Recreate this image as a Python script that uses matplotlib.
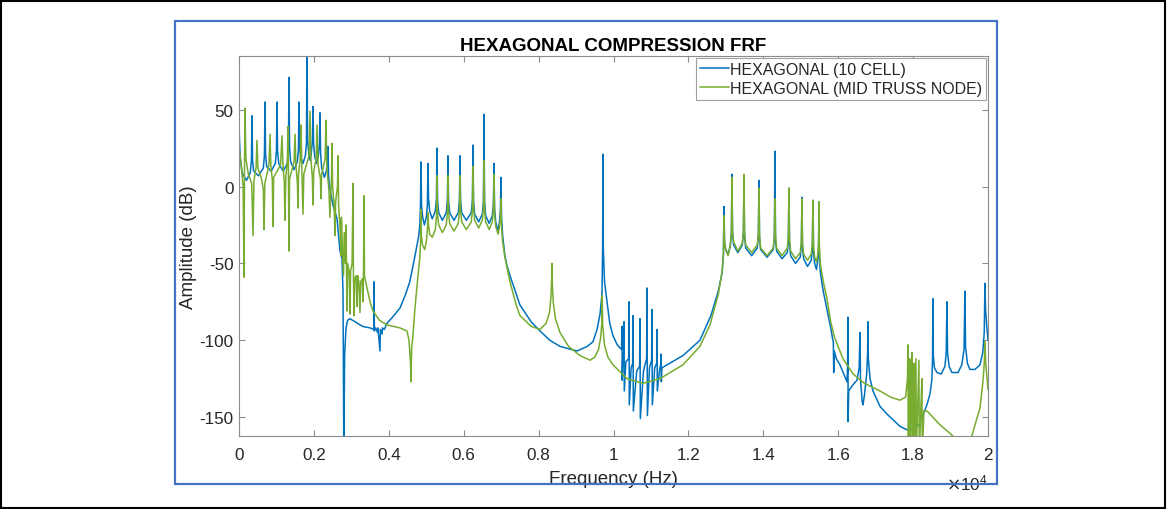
import matplotlib.pyplot as plt
from matplotlib.patches import Rectangle
from matplotlib.ticker import FuncFormatter

plt.rcParams['font.family'] = ['Liberation Sans', 'DejaVu Sans']
plt.rcParams['axes.unicode_minus'] = False

# (frequency Hz, amplitude dB), one list per stretch of curve

# HEXAGONAL (10 CELL)
blue_band1 = [(0, 39), (30, 20), (80, 9), (200, 4), (302, 9), (332, 17), (347, 46), (362, 17),
              (392, 10), (520, 7), (649, 12), (679, 20), (694, 55), (709, 21), (739, 13), (860, 10),
              (970, 15), (1000, 23), (1015, 55), (1030, 23), (1060, 15), (1180, 10), (1290, 15),
              (1320, 24), (1335, 71), (1350, 25), (1380, 16), (1470, 11), (1557, 16), (1587, 24),
              (1602, 55), (1617, 26), (1647, 19), (1710, 15), (1771, 20), (1801, 28), (1816, 95),
              (1831, 30), (1861, 22), (1900, 17), (1931, 22), (1961, 30), (1976, 52), (1991, 28),
              (2021, 20), (2070, 15), (2118, 20), (2148, 28), (2163, 48), (2178, 22), (2208, 12),
              (2280, 6), (2331, 10), (2361, 16), (2376, 26), (2391, 8), (2410, 1), (2510, -12),
              (2617, -21), (2697, -42), (2750, -47), (2777, -68), (2800, -175)]
blue_gap1 = [(2820, -110), (2857, -92), (2900, -87), (2964, -86), (3100, -88), (3300, -91),
             (3500, -92), (3600, -93), (3605, -62), (3615, -94), (3650, -92), (3700, -95),
             (3710, -92), (3765, -107), (3775, -93), (3820, -96), (3830, -92), (3880, -93),
             (3950, -89), (4100, -85), (4300, -79), (4450, -70), (4560, -62), (4700, -45),
             (4800, -32), (4830, -24), (4845, -14)]
blue_band2 = [(4859, 16), (4874, -12), (4904, -20), (4950, -25), (5001, -20), (5031, -12), (5046, 15),
              (5061, -8), (5091, -16), (5160, -21), (5242, -16), (5272, -8), (5287, 25), (5302, -9),
              (5332, -17), (5430, -22), (5535, -17), (5565, -9), (5580, 20), (5595, -9), (5625, -17),
              (5740, -22), (5856, -17), (5886, -9), (5901, 20), (5916, -9), (5946, -17), (6070, -22),
              (6203, -17), (6233, -9), (6248, 27), (6263, -10), (6293, -18), (6400, -23), (6497, -18),
              (6527, -10), (6542, 47), (6557, -10), (6587, -19), (6680, -24), (6764, -19), (6794, -11),
              (6809, 15), (6824, -14), (6854, -23), (6920, -29), (6950, -24), (6980, -16), (6995, 6),
              (7010, -20), (7040, -32), (7100, -45), (7160, -52), (7236, -58), (7500, -77),
              (7800, -88), (8037, -94), (8300, -100), (8571, -104), (9025, -107), (9300, -104),
              (9452, -101), (9560, -93), (9640, -83), (9692, -70), (9710, -40), (9719, 21),
              (9728, -40), (9760, -62), (9826, -75), (9900, -89), (9986, -97), (10100, -103)]
blue_cluster = [(10173, -105), (10215, -106), (10226, -91), (10232, -126), (10250, -110),
                (10275, -108), (10280, -88), (10288, -133), (10330, -114), (10405, -112),
                (10413, -75), (10422, -142), (10470, -118), (10512, -115), (10520, -84),
                (10530, -146), (10620, -120), (10697, -117), (10707, -86), (10717, -151),
                (10800, -120), (10884, -112), (10894, -66), (10905, -149), (10960, -118),
                (11018, -113), (11027, -80), (11037, -142), (11100, -118), (11152, -115),
                (11161, -93), (11170, -133), (11230, -119), (11260, -116), (11267, -109),
                (11277, -127), (11294, -118), (11428, -116), (11855, -110), (12309, -100),
                (12600, -84), (12800, -68), (12900, -56), (12935, -44)]
blue_band3 = [(12950, -13), (12965, -36), (12995, -41), (13060, -44), (13118, -39), (13148, -31),
              (13163, 8), (13178, -30), (13208, -38), (13320, -43), (13439, -38), (13469, -30),
              (13484, 4), (13499, -32), (13529, -40), (13690, -45), (13839, -40), (13869, -32),
              (13884, 4), (13899, -33), (13929, -41), (14100, -46), (14266, -41), (14296, -33),
              (14311, 23), (14326, -34), (14356, -42), (14500, -47), (14640, -43), (14670, -35),
              (14685, -1), (14700, -37), (14730, -45), (14860, -50), (14987, -46), (15017, -38),
              (15032, -7), (15047, -40), (15077, -47), (15180, -52), (15281, -48), (15311, -40),
              (15326, -9), (15341, -43), (15371, -50), (15420, -54), (15456, -48), (15476, -40),
              (15486, -10), (15496, -42), (15520, -55)]
blue_tail = [(15560, -62), (15600, -68), (15700, -80), (15800, -92), (15850, -99), (15870, -101),
             (15880, -121), (15895, -107), (15950, -112), (16047, -116), (16150, -122), (16234, -127),
             (16250, -118), (16260, -85), (16265, -153), (16280, -133), (16394, -129), (16500, -126),
             (16560, -118), (16581, -95), (16595, -125), (16640, -140), (16661, -142), (16700, -136),
             (16760, -122), (16785, -108), (16794, -88), (16805, -112), (16850, -125), (16928, -133),
             (17115, -143), (17302, -148), (17649, -156), (17900, -159), (18156, -155), (18370, -142),
             (18450, -135), (18500, -126), (18520, -112), (18530, -73), (18540, -110), (18570, -118),
             (18637, -121), (18750, -122), (18850, -117), (18885, -108), (18904, -75), (18920, -108),
             (18960, -117), (19037, -121), (19200, -121), (19300, -116), (19360, -106), (19384, -68),
             (19400, -104), (19450, -115), (19518, -119), (19650, -119), (19785, -116), (19860, -108),
             (19900, -95), (19918, -63), (19935, -80), (19970, -92), (20000, -100)]

# HEXAGONAL (MID TRUSS NODE)
green_band1 = [(0, 25), (60, 14), (110, 0), (134, -59), (145, 5), (160, 51), (185, 18), (250, 8),
               (340, 2), (374, -32), (400, 4), (455, 12), (480, 30), (505, 12), (600, 5), (650, -2),
               (668, -28), (690, 2), (800, 14), (828, 34), (850, 14), (890, 4), (908, -26), (925, 6),
               (1110, 14), (1148, 33), (1170, 16), (1210, 2), (1228, -22), (1250, 6), (1290, 16),
               (1308, 39), (1320, 10), (1335, -42), (1350, 5), (1470, 16), (1495, 34), (1520, 14),
               (1560, 2), (1575, -14), (1590, 8), (1635, 18), (1655, 40), (1680, 10), (1709, -18),
               (1730, 8), (1870, 20), (1896, 49), (1920, 18), (1960, 5), (1976, -12), (1995, 10),
               (2060, 18), (2083, 40), (2110, 14), (2175, 5), (2190, -8), (2205, 8), (2300, 18),
               (2323, 43), (2345, 12), (2400, -2), (2430, -20), (2450, -5), (2470, 5), (2483, 28),
               (2500, 0), (2540, -12), (2563, -32), (2580, -10), (2630, 0), (2643, 20), (2660, -12)]
green_gap1 = [(2700, -28), (2723, -45), (2735, -20), (2760, -40), (2790, -58), (2810, -30),
              (2840, -50), (2857, -25), (2870, -55), (2884, -81), (2900, -50), (2940, -55),
              (2964, -83), (2980, -55), (3020, -50), (3044, 2), (3055, -55), (3071, -84), (3090, -60),
              (3130, -58), (3150, -78), (3170, -58), (3200, -62), (3230, -82), (3250, -62),
              (3290, -60), (3310, -75), (3325, -55), (3338, -6), (3350, -58), (3418, -66),
              (3500, -75), (3578, -81), (3750, -87), (3952, -90), (4299, -92), (4486, -94),
              (4540, -100), (4580, -115), (4592, -127), (4610, -105), (4646, -97), (4699, -79),
              (4779, -58), (4830, -46), (4850, -34)]
green_band2 = [(4859, -15), (4870, -32), (4900, -38), (4960, -41), (5001, -36), (5031, -28), (5046, -17),
               (5061, -25), (5091, -31), (5160, -33), (5242, -28), (5272, -20), (5287, 7), (5302, -18),
               (5332, -25), (5430, -30), (5535, -25), (5565, -17), (5580, 7), (5595, -16), (5625, -24),
               (5740, -29), (5856, -24), (5886, -16), (5901, 7), (5916, -15), (5946, -23), (6070, -28),
               (6203, -23), (6233, -15), (6248, 13), (6263, -14), (6293, -22), (6400, -27), (6497, -22),
               (6527, -14), (6542, 17), (6557, -15), (6587, -23), (6680, -28), (6764, -23), (6794, -15),
               (6809, 8), (6824, -18), (6854, -26), (6920, -31), (6950, -27), (6980, -20), (6995, -8),
               (7010, -26), (7040, -36), (7100, -46), (7160, -53), (7236, -62), (7400, -77),
               (7503, -84), (7800, -91), (8037, -93), (8200, -89), (8290, -82), (8330, -72),
               (8350, -60), (8357, -50), (8365, -62), (8390, -75), (8450, -86), (8571, -95),
               (8800, -104), (9105, -110), (9372, -113), (9500, -111), (9600, -106), (9660, -98),
               (9690, -88), (9700, -71), (9710, -90), (9760, -103), (9850, -111), (9986, -116),
               (10360, -125), (10787, -128), (11241, -125), (11855, -116), (12309, -104),
               (12576, -90), (12800, -70), (12900, -55), (12935, -45)]
green_band3 = [(12950, -19), (12965, -36), (12995, -41), (13060, -45), (13118, -38), (13148, -30),
               (13163, 6), (13178, -29), (13208, -36), (13320, -42), (13439, -37), (13469, -29),
               (13484, 8), (13499, -30), (13529, -38), (13690, -43), (13839, -38), (13869, -30),
               (13884, -1), (13899, -32), (13929, -40), (14100, -45), (14266, -40), (14296, -32),
               (14311, -8), (14326, -32), (14356, -40), (14500, -45), (14640, -40), (14670, -32),
               (14685, -1), (14700, -34), (14730, -42), (14860, -47), (14987, -43), (15017, -35),
               (15032, -8), (15047, -37), (15077, -44), (15180, -48), (15281, -44), (15311, -36),
               (15326, -9), (15341, -39), (15371, -46), (15420, -49), (15456, -44), (15476, -36),
               (15486, -10), (15496, -38), (15520, -50)]
green_tail = [(15560, -56), (15620, -64), (15700, -73), (15800, -88), (15900, -98), (16127, -112),
              (16400, -122), (16700, -128), (17115, -133), (17400, -137), (17649, -139), (17800, -137),
              (17850, -125), (17862, -103), (17872, -175), (17895, -130), (17910, -112), (17920, -175),
              (17950, -128), (17969, -108), (17980, -175), (18005, -132), (18023, -115), (18033, -175),
              (18060, -135), (18076, -112), (18086, -175), (18130, -137), (18156, -113), (18166, -175),
              (18210, -142), (18236, -125), (18246, -175), (18290, -146), (18370, -146), (18717, -155),
              (19050, -162), (19300, -175), (19571, -162), (19785, -144), (19865, -127), (19900, -115),
              (19918, -101), (19940, -115), (20000, -132)]

blue_segments = [blue_band1, blue_gap1, blue_band2, blue_cluster, blue_band3, blue_tail]
green_segments = [green_band1, green_gap1, green_band2, green_band3, green_tail]


def join(segments):
    pts = [p for seg in segments for p in seg]
    return [p[0] for p in pts], [p[1] for p in pts]


blue_hz, blue_db = join(blue_segments)
green_hz, green_db = join(green_segments)

W, H = 1167, 510
fig = plt.figure(figsize=(W / 100, H / 100), dpi=100)
ax = fig.add_axes([239 / W, 1 - 437 / H, (988 - 239) / W, (437 - 57) / H])

ax.plot(blue_hz, blue_db, color='#0072BD', lw=1.1, label='HEXAGONAL (10 CELL)')
ax.plot(green_hz, green_db, color='#77AC30', lw=1.1, label='HEXAGONAL (MID TRUSS NODE)')

ax.set_xlim(0, 20000)
ax.set_ylim(-162.3, 84.9)
ax.set_xticks(range(0, 20001, 2000))
ax.set_yticks([-150, -100, -50, 0, 50])
ax.xaxis.set_major_formatter(FuncFormatter(lambda v, p: f'{v / 1e4:g}'))

gray = '#8c8c8c'
txt = '#262626'
for s in ax.spines.values():
    s.set_color(gray)
    s.set_linewidth(0.8)
ax.tick_params(direction='in', length=4, width=0.8, color=gray, labelcolor=txt,
               labelsize=12.3, top=True, right=True)
ax.tick_params(axis='x', pad=8)
ax.tick_params(axis='y', pad=4)

ax.set_xlabel('Frequency (Hz)', fontsize=13.5, color=txt, labelpad=5.5)
ax.set_ylabel('Amplitude (dB)', fontsize=13.5, color=txt, labelpad=2)
ax.set_title('HEXAGONAL COMPRESSION FRF', fontsize=13.5, fontweight='bold', pad=4)
ax.text(1.0, -0.095, r'$\times\mathregular{10^{4}}$', transform=ax.transAxes,
        ha='right', va='top', fontsize=12.3, color=txt)

leg = ax.legend(loc='upper right', bbox_to_anchor=(1.0, 1.0), borderaxespad=0.1,
                fontsize=11.5, handlelength=1.8, handletextpad=0.1, borderpad=0.25,
                labelspacing=0.25, fancybox=False, framealpha=1, edgecolor='#a0a0a0')
leg.get_frame().set_linewidth(0.8)
for t in leg.get_texts():
    t.set_color(txt)

# blue frame around the plot and the thin black page border
fig.patches.append(Rectangle((175 / W, 1 - 485 / H), (997 - 175) / W, (485 - 22) / H,
                             transform=fig.transFigure, fill=False, edgecolor='#4472C4', lw=1.6))
fig.patches.append(Rectangle((0.001, 0.002), 0.997, 0.995, transform=fig.transFigure,
                             fill=False, edgecolor='black', lw=1.5))

fig.savefig('out.png', dpi=100)
